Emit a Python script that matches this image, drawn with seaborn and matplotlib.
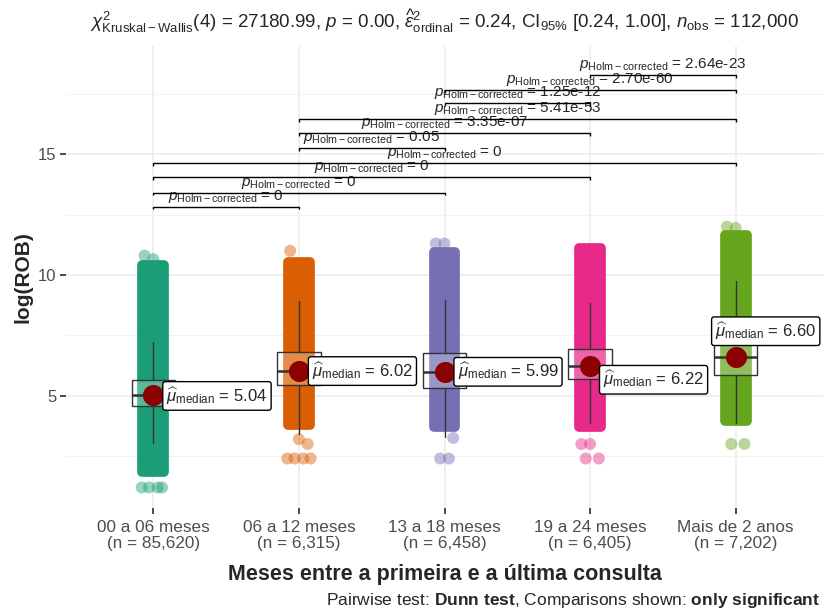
import matplotlib
matplotlib.use("Agg")
import matplotlib.pyplot as plt
import seaborn as sns
import pandas as pd
import numpy as np

# ── Data ─────────────────────────────────────────────────────────────────────
categories = ["00 a 06 meses", "06 a 12 meses", "13 a 18 meses",
              "19 a 24 meses", "Mais de 2 anos"]
n_obs = [85620, 6315, 6458, 6405, 7202]
medians = [5.04, 6.02, 5.99, 6.22, 6.60]
q1 = [4.56, 5.45, 5.32, 5.69, 5.86]
q3 = [5.63, 6.80, 6.76, 6.93, 7.20]
whisk_lo = [3.05, 3.40, 3.30, 3.88, 3.88]
whisk_hi = [7.23, 8.91, 8.95, 8.84, 9.74]
# extent of the dense jittered point cloud per group
cloud_lo = [1.85, 3.80, 3.70, 3.70, 3.95]
cloud_hi = [10.40, 10.55, 10.95, 11.10, 11.65]
# isolated points outside the dense cloud
outliers = {
    0: [10.8, 10.65, 1.2, 1.2, 1.2, 1.2],
    1: [11.0, 3.2, 3.0, 2.4, 2.4, 2.4, 2.4],
    2: [11.3, 11.3, 3.25, 2.4, 2.4],
    3: [3.0, 3.0, 2.4, 2.4],
    4: [12.0, 11.95, 3.0, 3.0],
}
pairs = [(0, 1), (0, 2), (0, 3), (0, 4), (1, 2), (1, 3), (1, 4), (2, 3), (2, 4), (3, 4)]
p_labels = ["0", "0", "0", "0", "0.05", "3.35e-07", "5.41e-53",
            "1.25e-12", "2.70e-60", "2.64e-23"]
bracket_y = [12.83, 13.41, 14.07, 14.65, 15.25, 15.87, 16.45, 17.11, 17.65, 18.28]

palette = ["#1B9E77", "#D95F02", "#7570B3", "#E7298A", "#66A61E"]

# ── Style ────────────────────────────────────────────────────────────────────
sns.set_theme(style="whitegrid")
plt.rcParams.update({
    "font.family": ["Liberation Sans", "DejaVu Sans"],
    "mathtext.fontset": "custom",
    "mathtext.rm": "Liberation Sans",
    "mathtext.it": "Liberation Sans:italic",
    "mathtext.bf": "Liberation Sans:bold",
    "axes.edgecolor": "white",
    "grid.color": "#EBEBEB",
})

fig = plt.figure(figsize=(8.23, 6.10), dpi=100)
ax = fig.add_axes([66 / 823, 1 - 508 / 610, 757 / 823, 462 / 610])
pos = np.arange(len(categories))

# point clouds (drawn as a band, edge rounded like the markers)
for i in pos:
    ax.bar(i, cloud_hi[i] - cloud_lo[i], bottom=cloud_lo[i], width=0.15,
           color=palette[i], edgecolor=palette[i], linewidth=7,
           joinstyle="round", zorder=2)

jitter = [-0.06, 0.0, 0.06, -0.03, 0.03, -0.08, 0.08]
out_df = pd.DataFrame(
    [(i + jitter[k % len(jitter)], y, categories[i])
     for i, ys in outliers.items() for k, y in enumerate(ys)],
    columns=["x", "y", "grp"])
sns.scatterplot(data=out_df, x="x", y="y", hue="grp", palette=palette,
                hue_order=categories, s=75, alpha=0.45, linewidth=0,
                legend=False, ax=ax, zorder=2)

# boxplots
stats = [dict(med=medians[i], q1=q1[i], q3=q3[i], whislo=whisk_lo[i],
              whishi=whisk_hi[i], fliers=[]) for i in pos]
ax.bxp(stats, positions=pos, widths=0.3, patch_artist=True, showcaps=False,
       boxprops=dict(facecolor=(1, 1, 1, 0.28), edgecolor="#333333", linewidth=1),
       whiskerprops=dict(color="#333333", linewidth=1),
       medianprops=dict(color="#333333", linewidth=1.8), zorder=3)

# median points
med_df = pd.DataFrame({"x": pos, "y": medians})
sns.scatterplot(data=med_df, x="x", y="y", color="#8B0000", s=230,
                linewidth=0, ax=ax, zorder=4)

# median labels
lab_dx = [0.09, 0.09, 0.09, 0.09, -0.14]
lab_dy = [-0.05, 0.0, 0.0, -0.56, 1.07]
for i in pos:
    ax.text(i + lab_dx[i], medians[i] + lab_dy[i],
            r"$\widehat{\mu}_{\mathrm{median}}$" + f" = {medians[i]:.2f}",
            ha="left", va="center", fontsize=12, zorder=5,
            bbox=dict(boxstyle="round,pad=0.22,rounding_size=0.15",
                      fc="white", ec="black", lw=1))

# significance brackets
tick = 0.12
for (a, b), yv, lab in zip(pairs, bracket_y, p_labels):
    ax.plot([a, a, b, b], [yv - tick, yv, yv, yv - tick], color="black",
            lw=1, zorder=3, solid_capstyle="butt")
    ax.text((a + b) / 2, yv + 0.08, r"$p_{\mathrm{Holm-corrected}}$" + f" = {lab}",
            ha="center", va="bottom", fontsize=11, zorder=3)

# axes
ax.set_xlim(-0.6, 4.6)
ax.set_ylim(0.35, 19.48)
ax.set_xticks(pos)
ax.set_xticklabels([f"{c}\n(n = {n:,})" for c, n in zip(categories, n_obs)],
                   fontsize=12.3, color="#4D4D4D", linespacing=1.07)
ax.set_yticks([5, 10, 15])
ax.set_yticks([2.5, 7.5, 12.5, 17.5], minor=True)
ax.tick_params(axis="y", which="major", labelsize=12, labelcolor="#4D4D4D",
               length=4, color="#333333", left=True, pad=3)
ax.tick_params(axis="y", which="minor", length=0, left=False)
ax.tick_params(axis="x", length=4, color="#333333", bottom=True, pad=5)
ax.grid(True, which="major", color="#EBEBEB", lw=1.1)
ax.grid(True, which="minor", axis="y", color="#F2F2F2", lw=0.8)
for s in ax.spines.values():
    s.set_visible(False)
ax.set_xlabel("Meses entre a primeira e a última consulta",
              fontsize=15.5, fontweight="bold", labelpad=9)
ax.set_ylabel("log(ROB)", fontsize=15, fontweight="bold", labelpad=4)

fig.text(444 / 823, 1 - 21 / 610,
         r"$\chi^2_{\mathrm{Kruskal-Wallis}}$(4) = 27180.99, $p$ = 0.00, "
         r"$\widehat{\epsilon}^2_{\mathrm{ordinal}}$ = 0.24, "
         r"CI$_{95\%}$ [0.24, 1.00], $n_{\mathrm{obs}}$ = 112,000",
         ha="center", va="center", fontsize=13.5)
fig.text(820 / 823, 1 - 601 / 610,
         r"Pairwise test: $\mathbf{Dunn\ test}$, Comparisons shown: "
         r"$\mathbf{only\ significant}$",
         ha="right", va="center", fontsize=12.5)

fig.savefig("out.png", dpi=100)
